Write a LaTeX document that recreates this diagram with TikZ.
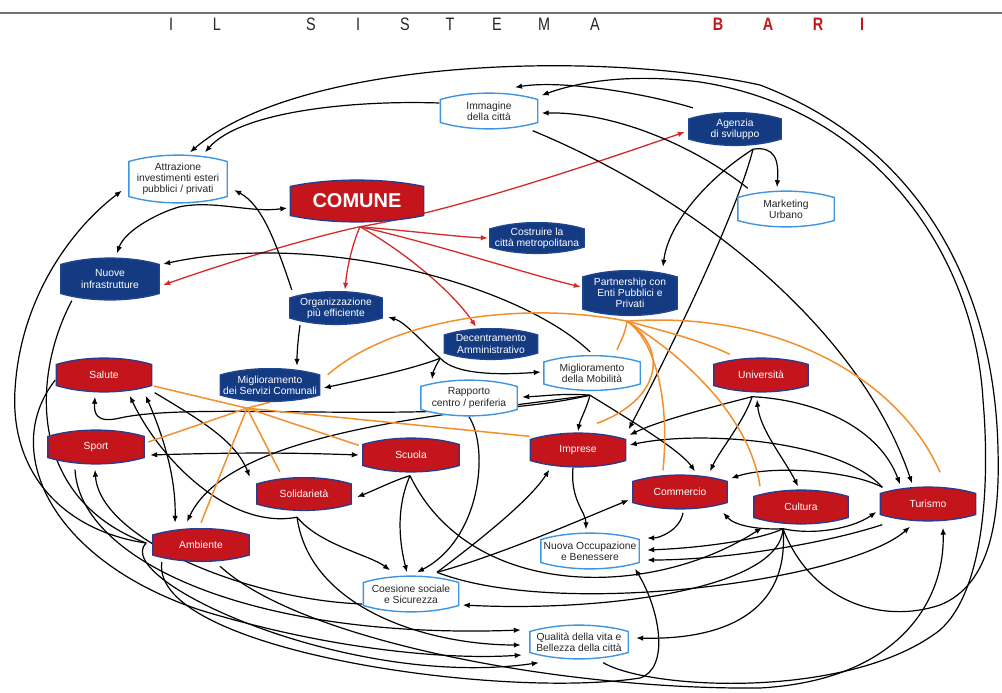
\documentclass[tikz,border=0pt]{standalone}
\usepackage{fontspec}
\setmainfont{Liberation Sans}
\usetikzlibrary{arrows.meta,calc}
\definecolor{cNavy}{HTML}{143A82}
\definecolor{cNavyD}{HTML}{1E4592}
\definecolor{cRed}{HTML}{C4151C}
\definecolor{cRedB}{HTML}{2E3A8C}
\definecolor{cBlue}{HTML}{3F95E0}
\definecolor{cArrowRed}{HTML}{D42A2A}
\definecolor{cOrange}{HTML}{F2902E}
\pgfdeclarelayer{bgw}\pgfdeclarelayer{bg}\pgfsetlayers{bgw,bg,main}
\tikzset{
 barrel/.style 2 args={path picture={
   \path[fill=#1,draw=#2,line width=1.4pt]
   let \p1=(path picture bounding box.south west), \p2=(path picture bounding box.north east) in
   (\x1+0.8pt,\y2-7pt) .. controls ({\x1+0.3*(\x2-\x1)},\y2+1.5pt) and ({\x1+0.7*(\x2-\x1)},\y2+1.5pt) .. (\x2-0.8pt,\y2-7pt)
   -- (\x2-0.8pt,\y1+7pt) .. controls ({\x1+0.7*(\x2-\x1)},\y1-1.5pt) and ({\x1+0.3*(\x2-\x1)},\y1-1.5pt) .. (\x1+0.8pt,\y1+7pt) -- cycle;
 }},
 box/.style={inner sep=1pt, align=center, font=\fontsize{10.3}{11.3}\selectfont},
 navybox/.style={box, text=white, barrel={cNavy}{cNavyD}},
 redbox/.style={box, text=white, barrel={cRed}{cRedB}},
 whitebox/.style={box, text=black!85, barrel={white}{cBlue}},
 ar/.style={line width=1.2pt, black, -{Latex[length=7pt,width=5.5pt]}},
 dar/.style={line width=1.2pt, black, {Latex[length=7pt,width=5.5pt]}-{Latex[length=7pt,width=5.5pt]}},
 rar/.style={line width=1.3pt, cArrowRed, -{Latex[length=7pt,width=5.5pt]}},
 ol/.style={line width=1.5pt, cOrange},
 ttl/.style={font=\fontsize{18}{18}\selectfont, text=black!85, inner sep=0pt},
 ttlb/.style={font=\fontsize{18}{18}\selectfont\bfseries, text=cRed, inner sep=0pt}
}
\begin{document}
\begin{tikzpicture}[x=1pt,y=-1pt]
\useasboundingbox (0,0) rectangle (1002,693);
\begin{pgfonlayer}{bgw}\fill[white] (0,0) rectangle (1002,693);\end{pgfonlayer}
\draw[black!55, line width=1.2pt] (0,13) -- (1002,13);
\foreach \ch/\xx [count=\i] in {I/171,L/217,S/311,I/358,S/405,T/450,E/497,M/544,A/595}
  \node[ttl] (t\i) at (\xx,24) {\scalebox{0.8}[1]{\ch}};
\foreach \ch/\xx [count=\i] in {B/718,A/768,R/818,I/862}
  \node[ttlb] (b\i) at (\xx,24) {\scalebox{0.8}[1]{\ch}};

% nodes
\node[whitebox, minimum width=99pt, minimum height=37pt] (imm) at (489,111) {Immagine\\della città};
\node[navybox, minimum width=94pt, minimum height=34pt] (age) at (735,129) {Agenzia\\di sviluppo};
\node[whitebox, minimum width=98pt, minimum height=37pt] (mkt) at (786,209) {Marketing\\Urbano};
\node[whitebox, minimum width=100pt, minimum height=49pt] (att) at (178,179) {Attrazione\\investimenti esteri\\pubblici / privati};
\node[redbox, minimum width=135pt, minimum height=43pt, font=\fontsize{20}{22}\selectfont\bfseries] (com) at (357,201) {COMUNE};
\node[navybox, minimum width=96pt, minimum height=32pt] (cos) at (537,238) {Costruire la\\città metropolitana};
\node[navybox, minimum width=100pt, minimum height=43pt] (nuo) at (110,279) {Nuove\\infrastrutture};
\node[navybox, minimum width=96pt, minimum height=46pt] (par) at (630,293) {Partnership con\\Enti Pubblici e\\Privati};
\node[navybox, minimum width=94pt, minimum height=34pt] (org) at (336,308) {Organizzazione\\più efficiente};
\node[navybox, minimum width=95pt, minimum height=32pt] (dec) at (491,344) {Decentramento\\Amministrativo};
\node[whitebox, minimum width=98pt, minimum height=36pt] (mob) at (592,373) {Miglioramento\\della Mobilità};
\node[redbox, minimum width=97pt, minimum height=35pt] (sal) at (104,375) {Salute};
\node[navybox, minimum width=101pt, minimum height=34pt] (ser) at (270,385) {Miglioramento\\dei Servizi Comunali};
\node[whitebox, minimum width=98pt, minimum height=37pt] (rap) at (469,398) {Rapporto\\centro / periferia};
\node[redbox, minimum width=96pt, minimum height=35pt] (uni) at (761,375) {Università};
\node[redbox, minimum width=98pt, minimum height=35pt] (spo) at (96,447) {Sport};
\node[redbox, minimum width=98pt, minimum height=35pt] (scu) at (411,455) {Scuola};
\node[redbox, minimum width=97pt, minimum height=35pt] (imp) at (578,450) {Imprese};
\node[redbox, minimum width=96pt, minimum height=34pt] (sol) at (304,494) {Solidarietà};
\node[redbox, minimum width=96pt, minimum height=35pt] (cmm) at (680,492) {Commercio};
\node[redbox, minimum width=96pt, minimum height=35pt] (cul) at (801,507) {Cultura};
\node[redbox, minimum width=97pt, minimum height=35pt] (tur) at (928,504) {Turismo};
\node[redbox, minimum width=98pt, minimum height=34pt] (amb) at (201,545) {Ambiente};
\node[whitebox, minimum width=100pt, minimum height=37pt] (nuv) at (590,551) {Nuova Occupazione\\e Benessere};
\node[whitebox, minimum width=97pt, minimum height=37pt] (coe) at (411,594) {Coesione sociale\\e Sicurezza};
\node[whitebox, minimum width=100pt, minimum height=35pt] (qua) at (579,642) {Qualità della vita e\\Bellezza della città};

% hubs
\coordinate (comH) at ($(com.south)+(3,4)$);
\coordinate (attH) at ($(att.south)+(2,3)$);
\coordinate (ageH) at ($(age.south)+(18,3)$);
\coordinate (decH) at ($(dec.south west)+(-3,-2)$);
\coordinate (mobH) at ($(mob.south)+(-2,4)$);
\coordinate (uniH) at ($(uni.south)+(-9,4)$);
\coordinate (turH) at ($(tur.north west)+(3,1)$);
\coordinate (culH) at ($(cul.south)+(-18,4)$);
\coordinate (scuH) at ($(scu.south)+(-1,3)$);
\coordinate (solH) at ($(sol.south)+(-7,6)$);
\coordinate (coeH) at ($(coe.north)+(26,-3)$);
\coordinate (serH) at ($(ser.south)+(-23,6)$);
\coordinate (parH) at ($(par.south)+(-3,5)$);

\begin{pgfonlayer}{bg}
% red from COMUNE
\draw[rar] (comH) .. controls (450,212) and (590,165) .. ($(age.west)+(-3,3)$);
\draw[rar] (comH) .. controls (420,232) and (460,237) .. ($(cos.west)+(-1,0)$);
\draw[rar] (comH) .. controls (440,245) and (520,272) .. ($(par.west)+(-1,-6)$);
\draw[rar] (comH) .. controls (410,255) and (455,295) .. ($(dec.north)+(-15,-1)$);
\draw[rar] (comH) .. controls (352,245) and (347,268) .. ($(org.north)+(9,-1)$);
\draw[rar] (comH) .. controls (300,240) and (220,265) .. ($(nuo.east)+(3,6)$);

% top black
\draw[ar] ($(imm.west)+(0,-8)$) .. controls (350,100) and (240,112) .. ($(att.north)+(27,-2)$);
\draw[ar] ($(age.north west)+(5,-4)$) .. controls (640,92) and (560,80) .. ($(imm.north)+(26,-5)$);
\draw[ar] ($(mkt.north west)+(11,-2)$) .. controls (700,150) and (620,112) .. ($(imm.east)+(3,2)$);
\draw[ar] ($(imm.south east)+(-6,1)$) .. controls (700,200) and (860,330) .. ($(tur.north)+(-16,-3)$);
\draw[ar] (ageH) .. controls (775,146) and (779,160) .. ($(mkt.north)+(-9,-3)$);
\draw[ar] (ageH) .. controls (705,180) and (668,225) .. ($(par.north)+(33,-3)$);
\draw[ar] (ageH) .. controls (735,220) and (660,370) .. ($(imp.north east)+(2,-3)$);
\draw[ar] (attH) .. controls (215,200) and (250,213) .. ($(com.west)+(-2,7)$);
\draw[ar] (attH) .. controls (160,212) and (125,230) .. ($(nuo.north)+(7,-4)$);
\draw[ar] ($(org.north west)+(3,-1)$) .. controls (275,240) and (262,205) .. ($(att.east)+(6,11)$);
\draw[ar] ($(org.south)+(-36,0)$) .. controls (298,340) and (297,352) .. ($(ser.north)+(27,-2)$);
\draw[ar] ($(mob.north)+(-2,-3)$) .. controls (520,285) and (320,230) .. ($(nuo.east)+(3,-15)$);

% Decentramento hub
\draw[ar] (decH) .. controls (420,340) and (405,322) .. ($(org.east)+(5,9)$);
\draw[ar] (decH) .. controls (436,365) and (433,372) .. ($(rap.north)+(-37,0)$);
\draw[ar] (decH) .. controls (455,375) and (500,375) .. ($(mob.west)+(-2,-1)$);
\draw[ar] (decH) .. controls (410,370) and (360,380) .. ($(ser.east)+(3,3)$);

% Mobilita hub
\draw[ar] (mobH) .. controls (565,393) and (545,396) .. ($(rap.east)+(4,-1)$);
\draw[ar] (mobH) .. controls (586,410) and (580,420) .. ($(imp.north)+(0,-1)$);
\draw[ar] (mobH) .. controls (630,420) and (680,450) .. ($(cmm.north)+(15,-3)$);
\draw[ar] (mobH) .. controls (450,415) and (230,430) .. ($(amb.north)+(-14,-6)$);
\draw[ar] (mobH) .. controls (450,428) and (200,400) .. (120,418) .. controls (95,424) and (94,412) .. ($(sal.south)+(-9,4)$);

% Salute, Sport, Solidarieta
\draw[ar] ($(sal.south east)+(2,0)$) .. controls (200,420) and (235,440) .. ($(sol.north west)+(-6,0)$);
\draw[dar] ($(sal.south east)+(-7,3)$) .. controls (165,440) and (176,480) .. ($(amb.north)+(-26,-5)$);
\draw[ar] (solH) .. controls (230,530) and (160,460) .. ($(sal.south east)+(-23,3)$);
\draw[dar] ($(spo.east)+(5,8)$) .. controls (250,452) and (300,453) .. ($(scu.west)+(-3,0)$);

% Scuola hub
\draw[ar] (scuH) .. controls (395,480) and (375,490) .. ($(sol.east)+(5,3)$);
\draw[ar] (scuH) .. controls (395,510) and (400,545) .. ($(coe.north)+(-4,-3)$);
\draw[ar] (scuH) .. controls (470,600) and (650,600) .. ($(cul.south)+(-39,3)$);

% Rapporto
\draw[ar] (rap.south) .. controls (490,450) and (480,540) .. ($(coe.north)+(6,-3)$);

% Coesione
\draw[ar] (coeH) .. controls (480,540) and (530,500) .. ($(imp.south west)+(20,2)$);
\draw[ar] (coeH) .. controls (500,555) and (580,520) .. ($(cmm.west)+(-3,8)$);
\draw[ar] (coeH) .. controls (560,620) and (850,580) .. ($(tur.south)+(-18,5)$);
\draw[ar] ($(coe.west)+(0,10)$) .. controls (250,600) and (100,540) .. ($(spo.south)+(-1,5)$);

% Solidarieta hub
\draw[ar] (solH) .. controls (320,545) and (370,555) .. ($(coe.north)+(-21,-5)$);
\draw[ar] (solH) .. controls (310,610) and (430,645) .. ($(qua.west)+(-8,3)$);

% left side and bottom
\draw[ar] ($(amb.west)+(-6,-2)$) .. controls (60,530) and (10,470) .. (15,390) .. controls (20,300) and (70,230) .. ($(att.south west)+(-6,-13)$);
\draw[ar] ($(nuo.south west)+(12,0)$) .. controls (30,380) and (30,500) .. (146,543) .. controls (110,580) and (350,690) .. ($(qua.south west)+(10,3)$);
\draw[ar] ($(spo.south)+(-21,5)$) .. controls (80,560) and (250,640) .. ($(qua.west)+(-8,-12)$);
\draw[ar] ($(sal.west)+(0,5)$) .. controls (0,450) and (50,560) .. (200,610) .. controls (330,650) and (450,660) .. ($(qua.west)+(-7,13)$);
\draw[ar] ($(amb.south west)+(10,0)$) .. controls (150,650) and (500,700) .. (640,678) .. controls (670,668) and (660,610) .. ($(nuv.south)+(45,-1)$);
\draw[ar] ($(amb.south)+(19,4)$) .. controls (300,640) and (560,690) .. (760,688) .. controls (900,680) and (945,600) .. ($(tur.south)+(15,6)$);

% Imprese, Commercio, Turismo to Nuova Occupazione
\draw[ar] ($(imp.south)+(-5,0)$) .. controls (570,500) and (586,512) .. ($(nuv.north)+(-4,-3)$);
\draw[ar] ($(cmm.south)+(3,3)$) .. controls (680,530) and (660,538) .. ($(nuv.east)+(7,-13)$);
\draw[ar] ($(tur.south west)+(3,3)$) .. controls (820,545) and (720,560) .. ($(nuv.east)+(7,9)$);

% Cultura hub
\draw[ar] (culH) .. controls (760,530) and (735,526) .. ($(cmm.south east)+(-5,3)$);
\draw[ar] (culH) .. controls (810,535) and (850,530) .. ($(tur.west)+(-3,8)$);
\draw[ar] (culH) .. controls (760,540) and (700,548) .. ($(nuv.east)+(7,-1)$);
\draw[ar] (culH) .. controls (780,590) and (600,612) .. ($(coe.east)+(3,11)$);
\draw[ar] (culH) .. controls (790,615) and (720,640) .. ($(qua.east)+(7,-4)$);
\draw[ar] (culH) .. controls (810,600) and (880,625) .. (940,605) .. controls (990,585) and (1000,520) .. (998,450) .. controls (995,300) and (930,150) .. (760,85) .. controls (600,50) and (300,58) .. ($(att.north)+(12,-2)$);

% Qualita to Immagine
\draw[ar] ($(qua.south east)+(-26,3)$) .. controls (650,690) and (850,700) .. (940,630) .. controls (985,590) and (990,480) .. (983,400) .. controls (975,260) and (880,110) .. (700,82) .. controls (620,72) and (570,85) .. ($(imm.north east)+(3,3)$);

% Universita, Turismo hubs
\draw[ar] (uniH) .. controls (720,405) and (660,420) .. ($(imp.east)+(3,-15)$);
\draw[ar] (uniH) .. controls (745,420) and (720,450) .. ($(cmm.north)+(30,-3)$);
\draw[ar] (uniH) .. controls (820,400) and (880,430) .. ($(tur.north)+(-28,-2)$);
\draw[dar] ($(uni.south)+(-4,7)$) .. controls (760,430) and (785,460) .. ($(cul.north)+(-3,-3)$);
\draw[ar] (turH) .. controls (840,440) and (700,430) .. ($(imp.east)+(3,-5)$);
\draw[ar] (turH) .. controls (850,470) and (770,465) .. ($(cmm.north east)+(3,4)$);

% orange
\draw[ol] (parH) .. controls (520,300) and (390,320) .. ($(ser.north east)+(7,7)$);
\draw[ol] (parH) .. controls (625,335) and (620,342) .. ($(mob.north)+(25,-5)$);
\draw[ol] (parH) .. controls (670,350) and (660,400) .. ($(imp.north)+(19,-9)$);
\draw[ol] (parH) .. controls (655,340) and (670,400) .. ($(cmm.north)+(-17,-4)$);
\draw[ol] (parH) .. controls (690,360) and (750,420) .. ($(cul.north)+(-41,-3)$);
\draw[ol] (parH) .. controls (660,330) and (700,340) .. ($(uni.north west)+(17,-3)$);
\draw[ol] (parH) .. controls (780,310) and (900,380) .. ($(tur.north)+(12,-14)$);
\draw[ol] (ser.south) -- (serH);
\draw[ol] (serH) -- ($(sal.east)+(1,11)$);
\draw[ol] (serH) -- ($(spo.east)+(3,-5)$);
\draw[ol] (serH) -- ($(amb.north)+(0,-5)$);
\draw[ol] (serH) -- ($(sol.north west)+(24,-5)$);
\draw[ol] (serH) -- ($(scu.north west)+(-3,8)$);
\draw[ol] (serH) -- ($(imp.north west)+(0,4)$);
\end{pgfonlayer}
\end{tikzpicture}
\end{document}
